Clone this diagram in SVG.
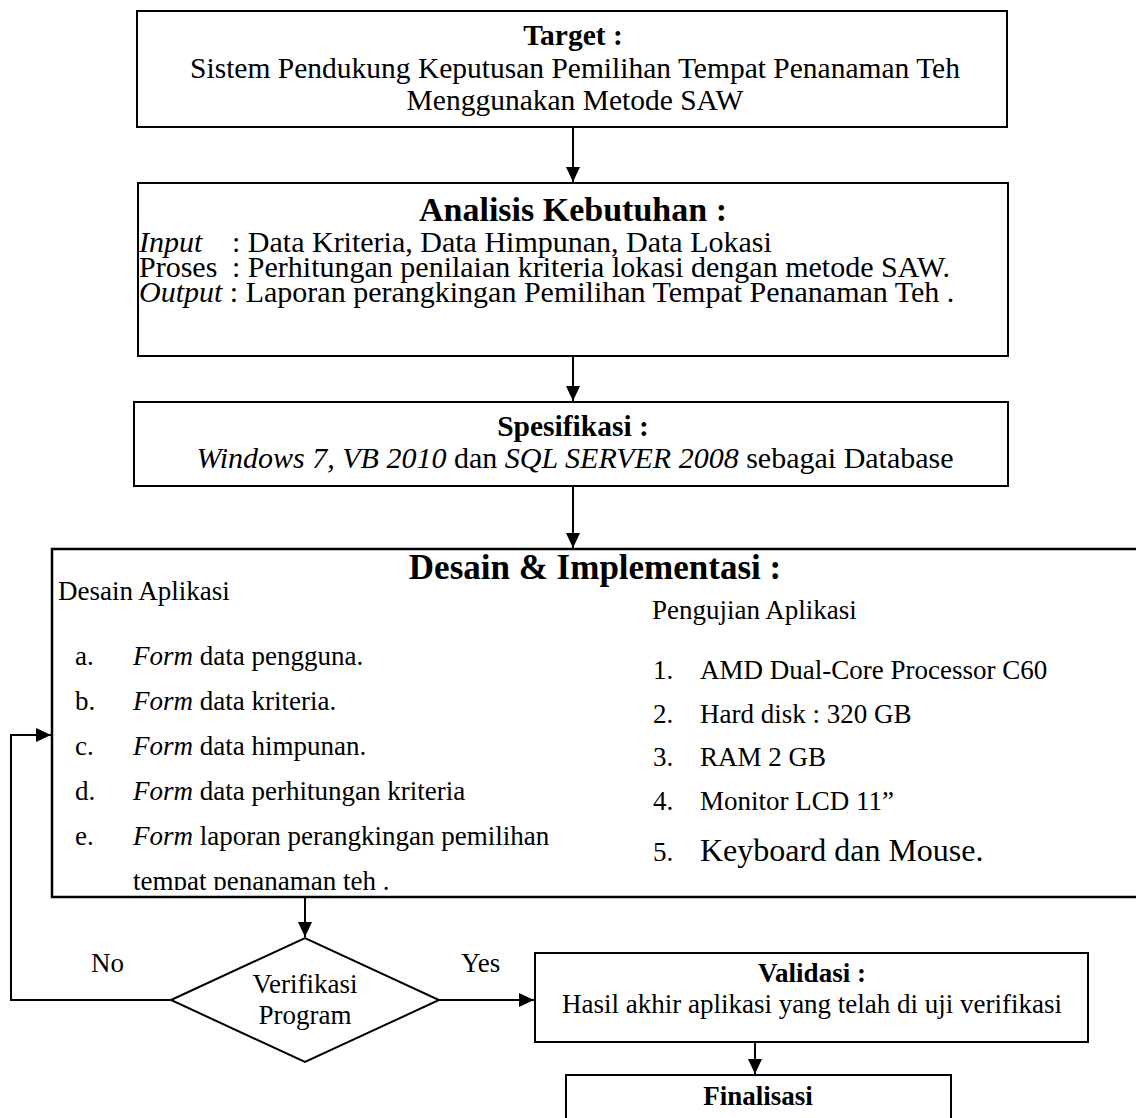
<svg xmlns="http://www.w3.org/2000/svg" width="1136" height="1118" viewBox="0 0 1136 1118">
<style>
text{font-family:"Liberation Serif","Times New Roman",serif;fill:#000}
.b{font-weight:bold}
.i{font-style:italic}
.t30{font-size:30px}
.t29{font-size:29.5px}
.t27{font-size:27px}
.box{fill:#fff;stroke:#000;stroke-width:2}
.ln{fill:none;stroke:#000;stroke-width:2}
.m{text-anchor:middle}
</style>
<defs>
<marker id="ah" markerUnits="userSpaceOnUse" markerWidth="16" markerHeight="14" refX="15" refY="7" orient="auto">
<path d="M0,0 L15,7 L0,14 z" fill="#000"/>
</marker>
<clipPath id="clipDesain"><rect x="52" y="549" width="1090" height="341"/></clipPath>
</defs>
<rect width="1136" height="1118" fill="#fff"/>

<g id="target">
<rect class="box" x="137" y="11" width="870" height="116"/>
<text class="b t29 m" x="573" y="45">Target :</text>
<text class="t29 m" x="575" y="78">Sistem Pendukung Keputusan Pemilihan Tempat Penanaman Teh</text>
<text class="t29 m" x="575" y="110">Menggunakan Metode SAW</text>
</g>

<g id="analisis">
<rect class="box" x="138" y="183" width="870" height="173"/>
<text class="b m" style="font-size:34px" x="573" y="221">Analisis Kebutuhan :</text>
<text class="t30 i" x="139" y="252">Input</text>
<text class="t30" x="232" y="252">: Data Kriteria, Data Himpunan, Data Lokasi</text>
<text class="t30" x="139" y="277">Proses</text>
<text class="t30" x="232" y="277">: Perhitungan penilaian kriteria lokasi dengan metode SAW.</text>
<text class="t30" x="139" y="302"><tspan class="i">Output</tspan> : Laporan perangkingan Pemilihan Tempat Penanaman Teh .</text>
</g>

<g id="spesifikasi">
<rect class="box" x="134" y="402" width="874" height="84"/>
<text class="b t29 m" x="573" y="436">Spesifikasi :</text>
<text class="t30 m" x="575" y="468"><tspan class="i">Windows 7, VB 2010</tspan> dan <tspan class="i">SQL SERVER 2008</tspan> sebagai Database</text>
</g>

<g id="desain">
<rect class="box" x="52" y="549" width="1092" height="348" style="stroke-width:2.5"/>
<text class="b m" style="font-size:35px" x="595" y="579">Desain &amp; Implementasi :</text>
<text class="t27" x="58" y="600">Desain Aplikasi</text>
<text class="t27" x="75" y="665">a.</text><text class="t27" x="133" y="665"><tspan class="i">Form</tspan> data pengguna.</text>
<text class="t27" x="75" y="710">b.</text><text class="t27" x="133" y="710"><tspan class="i">Form</tspan> data kriteria.</text>
<text class="t27" x="75" y="755">c.</text><text class="t27" x="133" y="755"><tspan class="i">Form</tspan> data himpunan.</text>
<text class="t27" x="75" y="800">d.</text><text class="t27" x="133" y="800"><tspan class="i">Form</tspan> data perhitungan kriteria</text>
<text class="t27" x="75" y="845">e.</text><text class="t27" x="133" y="845"><tspan class="i">Form</tspan> laporan perangkingan pemilihan</text>
<text class="t27" x="133" y="890" clip-path="url(#clipDesain)">tempat penanaman teh .</text>
<text class="t27" x="652" y="619">Pengujian Aplikasi</text>
<text class="t27" x="653" y="679">1.</text><text class="t27" x="700" y="679">AMD Dual-Core Processor C60</text>
<text class="t27" x="653" y="723">2.</text><text class="t27" x="700" y="723">Hard disk : 320 GB</text>
<text class="t27" x="653" y="766">3.</text><text class="t27" x="700" y="766">RAM 2 GB</text>
<text class="t27" x="653" y="810">4.</text><text class="t27" x="700" y="810">Monitor LCD 11”</text>
<text class="t27" x="653" y="861">5.</text><text style="font-size:32px" x="700" y="861">Keyboard dan Mouse.</text>
</g>

<g id="verifikasi">
<polygon class="box" points="171,1000 305,938 439,1000 305,1062"/>
<text class="t27 m" x="305" y="993">Verifikasi</text>
<text class="t27 m" x="305" y="1024">Program</text>
</g>

<g id="validasi">
<rect class="box" x="535" y="953" width="553" height="89"/>
<text class="b t27 m" x="812" y="982">Validasi :</text>
<text class="t27 m" x="812" y="1013">Hasil akhir aplikasi yang telah di uji verifikasi</text>
</g>

<g id="finalisasi">
<rect class="box" x="566" y="1075" width="385" height="60"/>
<text class="b t27 m" x="758" y="1105">Finalisasi</text>
</g>

<g id="connectors">
<line class="ln" x1="573" y1="127" x2="573" y2="182" marker-end="url(#ah)"/>
<line class="ln" x1="573" y1="356" x2="573" y2="401" marker-end="url(#ah)"/>
<line class="ln" x1="573" y1="486" x2="573" y2="548" marker-end="url(#ah)"/>
<line class="ln" x1="305" y1="897" x2="305" y2="937" marker-end="url(#ah)"/>
<line class="ln" x1="439" y1="1000" x2="534" y2="1000" marker-end="url(#ah)"/>
<polyline class="ln" points="171,1000 11,1000 11,735 51,735" marker-end="url(#ah)"/>
<line class="ln" x1="755" y1="1042" x2="755" y2="1074" marker-end="url(#ah)"/>
<text class="t27" x="91" y="972">No</text>
<text class="t27" x="461" y="972">Yes</text>
</g>
</svg>
